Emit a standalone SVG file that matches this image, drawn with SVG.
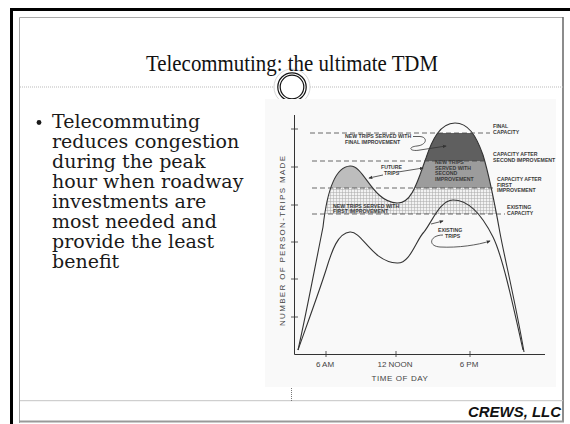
<svg xmlns="http://www.w3.org/2000/svg" width="570" height="424" viewBox="0 0 570 424">
<style>
.t{font-family:"Liberation Sans",Arial,sans-serif;font-weight:bold;font-size:5.2px;fill:#3a3a3a}
.ax{font-family:"Liberation Sans",Arial,sans-serif;font-size:8px;fill:#444}
.dash{stroke:#444;stroke-width:0.8;stroke-dasharray:5,3;fill:none}
.crv{stroke:#333;stroke-width:1.1;fill:none}
.arr{stroke:#333;stroke-width:0.8;fill:none;marker-end:url(#ah)}
.body{font-family:"DejaVu Serif",serif;font-size:19px;fill:#1a1a1a}
</style>
<defs>
<marker id="ah" viewBox="0 0 6 6" refX="5" refY="3" markerWidth="5" markerHeight="5" orient="auto"><path d="M0,0.5L6,3L0,5.5Z" fill="#333"/></marker>
<pattern id="grid" width="3" height="3" patternUnits="userSpaceOnUse"><rect width="3" height="3" fill="#f2f2f2"/><path d="M0,0.5H3M0.5,0V3" stroke="#a8a8a8" stroke-width="0.5"/></pattern>
<clipPath id="outer"><path d="M298,350 C306,315 316,262 323,227 C326,200 333,167 350,166 C364,165 372,202 397,203 C412,204 418,180 426,158 C432,140 440,123 455,123 C468,123 476,135 483,155 C490,178 495,205 500,233 C505,260 515,300 524,352 Z"/></clipPath>
</defs>
<rect width="570" height="424" fill="#fff"/>
<g id="frame">
<rect x="10" y="8" width="560" height="3" fill="#000"/>
<rect x="10" y="8" width="3" height="416" fill="#000"/>
<path d="M19.5,423V17.5H563" stroke="#aaa" stroke-width="1" fill="none"/>
<path d="M563,17V422" stroke="#666" stroke-width="1.5"/>
<path d="M19,421.5H564" stroke="#999" stroke-width="2"/>
<path d="M20,87H563" stroke="#bbb" stroke-width="1" stroke-dasharray="1,1"/>
<path d="M20,400.7H563" stroke="#c4c4c4" stroke-width="1"/>
<path d="M291.5,388V401" stroke="#777" stroke-width="1" stroke-dasharray="1,1"/>
<path d="M292,103V110" stroke="#777" stroke-width="1" stroke-dasharray="1,1"/>
<circle cx="292" cy="87" r="18" fill="#fff" stroke="#ccc" stroke-width="0.8"/>
<circle cx="292" cy="87" r="14.2" fill="#fff" stroke="#111" stroke-width="1.2"/>
<circle cx="292" cy="87" r="11.8" fill="none" stroke="#111" stroke-width="1.2"/>
</g>
<g id="title">
<text x="146" y="71" font-family="Liberation Serif, serif" font-size="24" fill="#111" textLength="292" lengthAdjust="spacingAndGlyphs">Telecommuting: the ultimate TDM</text>
</g>
<g id="bullet">
<circle cx="39" cy="122.5" r="2.4" fill="#1a1a1a"/>
<text class="body" x="52" y="128">Telecommuting</text>
<text class="body" x="52" y="148">reduces congestion</text>
<text class="body" x="52" y="168">during the peak</text>
<text class="body" x="52" y="188">hour when roadway</text>
<text class="body" x="52" y="208">investments are</text>
<text class="body" x="52" y="228">most needed and</text>
<text class="body" x="52" y="248">provide the least</text>
<text class="body" x="52" y="268">benefit</text>
</g>
<g id="chart">
<rect x="265" y="99" width="291" height="288" fill="#f9f9f9"/>
<g clip-path="url(#outer)">
<rect x="296" y="188" width="232" height="26" fill="url(#grid)"/>
<rect x="296" y="140" width="94" height="48" fill="#bdbdbd"/>
<rect x="400" y="161" width="120" height="27" fill="#9c9c9c"/>
<rect x="400" y="133" width="120" height="28" fill="#5f5f5f"/>
</g>
<path d="M294.5,115V354.5H545" stroke="#333" stroke-width="1" fill="none"/>
<path d="M291,129H298M291,167H298M291,205H298M291,242H298M291,279H298M291,317H298" stroke="#333" stroke-width="0.8"/>
<path d="M326,351V357M396,351V357M470,351V357" stroke="#333" stroke-width="0.8"/>
<path class="crv" d="M298,350 C306,315 316,262 323,227 C326,200 333,167 350,166 C364,165 372,202 397,203 C412,204 418,180 426,158 C432,140 440,123 455,123 C468,123 476,135 483,155 C490,178 495,205 500,233 C505,260 515,300 524,352"/>
<path class="crv" d="M298,350 C305,330 318,295 326,270 C332,250 338,233 350,232 C362,231 372,262 397,263 C410,264 416,240 424,232 C432,222 440,200 453,200 C468,200 482,215 493,237 C502,255 512,300 523,350"/>
<path class="dash" d="M310,133H490M312,161H488M312,188H493M312,214H505"/>
<text class="t" x="493" y="128">FINAL</text>
<text class="t" x="493" y="133.5">CAPACITY</text>
<text class="t" x="493" y="156">CAPACITY AFTER</text>
<text class="t" x="493" y="161.5">SECOND IMPROVEMENT</text>
<text class="t" x="497" y="181">CAPACITY AFTER</text>
<text class="t" x="497" y="186.5">FIRST</text>
<text class="t" x="497" y="192">IMPROVEMENT</text>
<text class="t" x="507" y="209">EXISTING</text>
<text class="t" x="507" y="214.5">CAPACITY</text>
<text class="t" x="345" y="138">NEW TRIPS SERVED WITH</text>
<text class="t" x="345" y="143.5">FINAL IMPROVEMENT</text>
<path class="arr" d="M413,136.5H420C428,137 427,145 417,146C407,147 410,152 420,150L446,146"/>
<text class="t" x="381" y="169">FUTURE</text>
<text class="t" x="384" y="174.5">TRIPS</text>
<path class="arr" d="M383,175L369,178"/>
<path class="arr" d="M398,172L423,168"/>
<text class="t" x="435" y="164">NEW TRIPS</text>
<text class="t" x="435" y="169.5">SERVED WITH</text>
<text class="t" x="435" y="175">SECOND</text>
<text class="t" x="435" y="180.5">IMPROVEMENT</text>
<text class="t" x="333" y="207.5">NEW TRIPS SERVED WITH</text>
<text class="t" x="333" y="213">FIRST IMPROVEMENT</text>
<text class="t" x="438" y="232">EXISTING</text>
<text class="t" x="445" y="237.5">TRIPS</text>
<path class="arr" d="M431,224L443,221"/>
<path class="arr" d="M443,235C430,235 427,246 440,247C458,248 478,245 490,241"/>
<text class="ax" x="325" y="367" text-anchor="middle">6 AM</text>
<text class="ax" x="395" y="367" text-anchor="middle">12 NOON</text>
<text class="ax" x="469" y="367" text-anchor="middle">6 PM</text>
<text class="ax" x="400" y="381" text-anchor="middle" letter-spacing="0.6">TIME OF DAY</text>
<text class="ax" transform="translate(285,241) rotate(-90)" text-anchor="middle" textLength="170" lengthAdjust="spacing">NUMBER OF PERSON-TRIPS MADE</text>
</g>
<g id="footer">
<text x="561" y="417" text-anchor="end" font-family="Liberation Sans, sans-serif" font-weight="bold" font-style="italic" font-size="14" fill="#111" textLength="93" lengthAdjust="spacingAndGlyphs">CREWS, LLC</text>
</g>
</svg>
